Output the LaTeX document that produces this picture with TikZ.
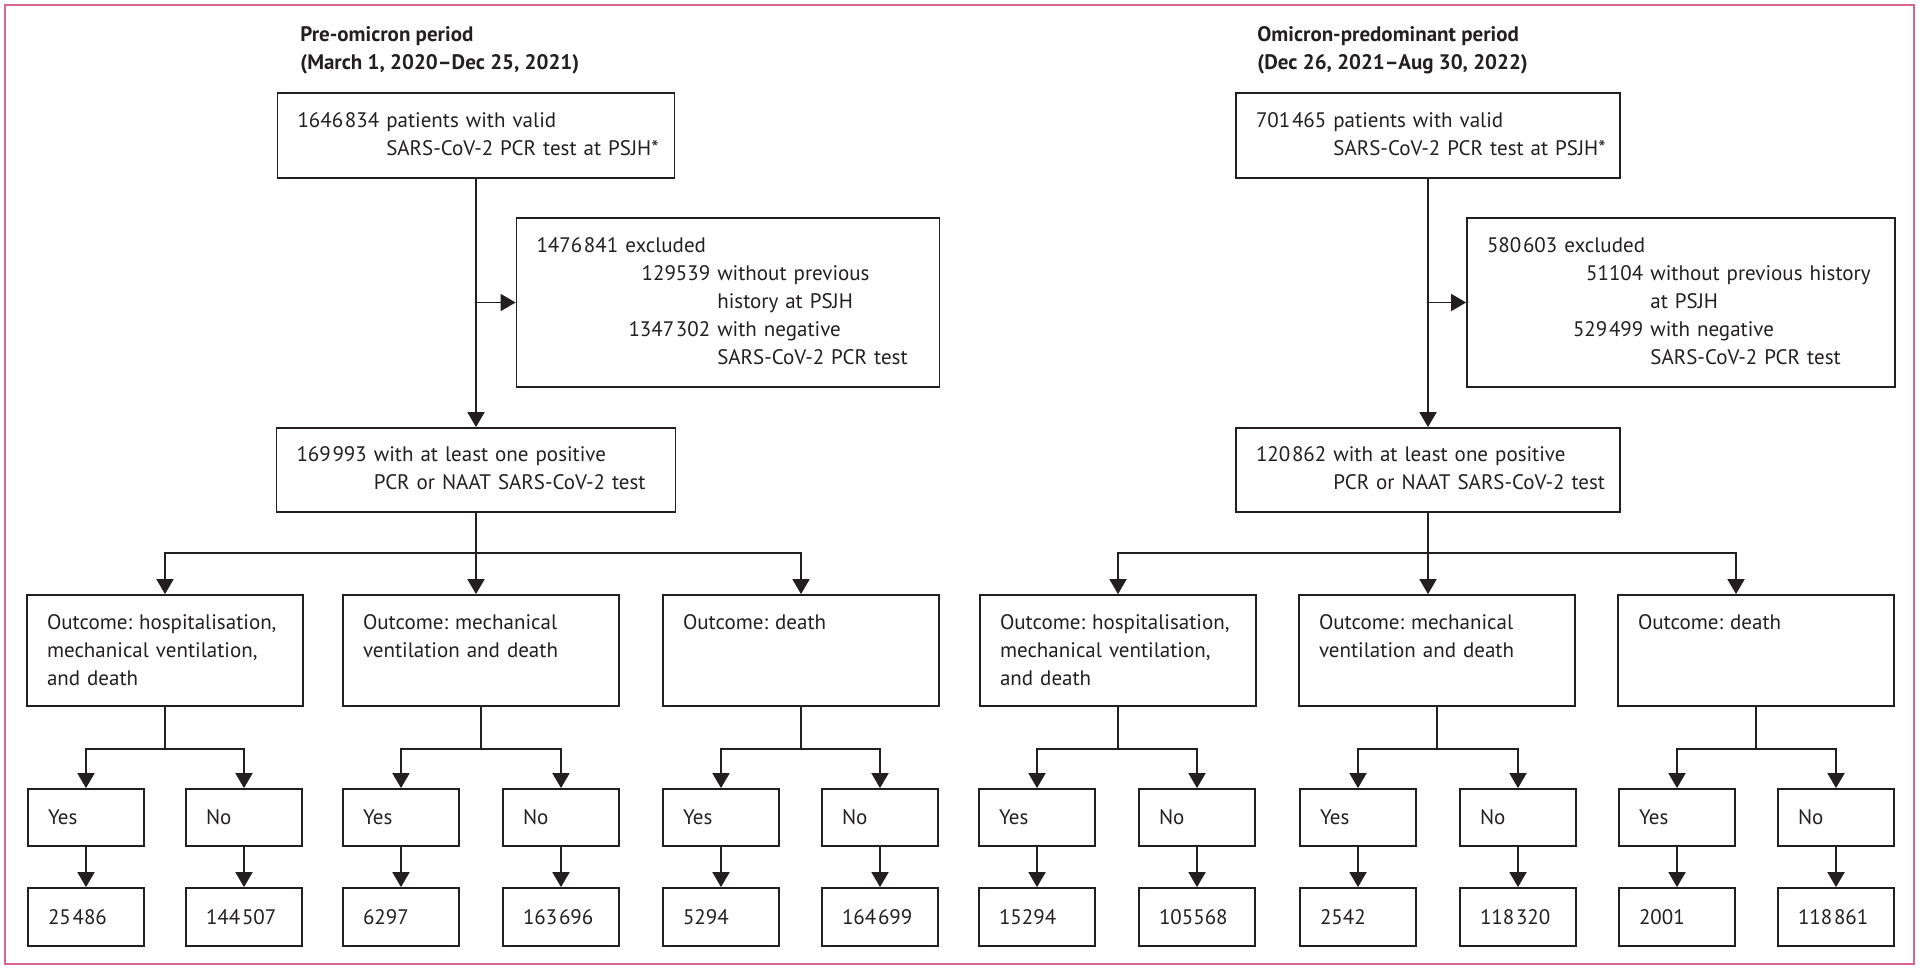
\documentclass[tikz,border=0pt]{standalone}
\usepackage{fontspec}
\setmainfont{PT Sans}
\frenchspacing
\usepackage{tikz}
\usetikzlibrary{positioning}
\usetikzlibrary{arrows.meta}
\definecolor{ink}{RGB}{35,31,32}
\definecolor{framepink}{RGB}{217,102,140}
\newcommand{\thsp}{\kern0.08em}

\begin{document}
\begin{tikzpicture}[x=0.5pt, y=-0.5pt,
    every node/.style={font=\fontsize{10.5}{14}\selectfont, text=ink},
    box/.style={draw=ink, line width=0.9pt, inner xsep=10pt, inner ysep=0pt, align=left},
    outbox/.style={box, text width=118pt, minimum height=55.5pt},
    ynbox/.style={box, text width=38pt, minimum height=28.5pt},
    countbox/.style={box, text width=38pt, minimum height=29pt},
    heading/.style={font=\fontsize{10.5}{14}\selectfont\bfseries, align=left, anchor=north west, inner sep=0pt},
    link/.style={draw=ink, line width=0.9pt},
    arr/.style={link, -{Triangle[length=7.5pt, width=8.5pt]}}]

    \useasboundingbox (0,0) rectangle (1920,971);
    \draw[framepink, line width=1pt] (5,5) rectangle (1914,964);

    % Nodes: pre-omicron
    \node[heading] at (300,26) (head_pre) {Pre-omicron period\\(March 1, 2020–Dec 25, 2021)};
    \node[box, text width=178.5pt, minimum height=42.5pt] at (476,135.5) (start_pre)
        {\begin{tabular}{@{}l@{ }l@{}}1646\thsp834 & patients with valid\\ & SARS-CoV-2 PCR test at PSJH*\end{tabular}};
    \node[box, text width=191.5pt, minimum height=84.5pt] at (728,302.5) (excl_pre)
        {\begin{tabular}{@{}l@{}r@{ }l@{}}
            \multicolumn{3}{@{}l@{}}{1476\thsp841 excluded}\\
            \hspace*{46pt} & 129539 & without previous\\
             & & history at PSJH\\
             & 1347\thsp302 & with negative\\
             & & SARS-CoV-2 PCR test
        \end{tabular}};
    \node[box, text width=179.5pt, minimum height=42pt] at (476,470) (pos_pre)
        {\begin{tabular}{@{}l@{ }l@{}}169\thsp993 & with at least one positive\\ & PCR or NAAT SARS-CoV-2 test\end{tabular}};

    \node[outbox] at (165,650.5) (hosp_pre) {Outcome: hospitalisation,\\mechanical ventilation,\\and death};
    \node[outbox] at (481,650.5) (vent_pre) {Outcome: mechanical\\ventilation and death\\\mbox{}};
    \node[outbox] at (801,650.5) (death_pre) {Outcome: death\\\mbox{}\\\mbox{}};

    \node[ynbox] at (86,817.5) (hy_pre) {Yes};
    \node[ynbox] at (244,817.5) (hn_pre) {No};
    \node[ynbox] at (401,817.5) (vy_pre) {Yes};
    \node[ynbox] at (561,817.5) (vn_pre) {No};
    \node[ynbox] at (721,817.5) (dy_pre) {Yes};
    \node[ynbox] at (880,817.5) (dn_pre) {No};

    \node[countbox] at (86,917) (hy_pre_n) {25\thsp486};
    \node[countbox] at (244,917) (hn_pre_n) {144\thsp507};
    \node[countbox] at (401,917) (vy_pre_n) {6297};
    \node[countbox] at (561,917) (vn_pre_n) {163\thsp696};
    \node[countbox] at (721,917) (dy_pre_n) {5294};
    \node[countbox] at (880,917) (dn_pre_n) {164\thsp699};

    % Nodes: omicron-predominant
    \node[heading] at (1257,26) (head_om) {Omicron-predominant period\\(Dec 26, 2021–Aug 30, 2022)};
    \node[box, text width=172pt, minimum height=42.5pt] at (1428,135.5) (start_om)
        {\begin{tabular}{@{}l@{ }l@{}}701\thsp465 & patients with valid\\ & SARS-CoV-2 PCR test at PSJH*\end{tabular}};
    \node[box, text width=194pt, minimum height=84.5pt] at (1681,302.5) (excl_om)
        {\begin{tabular}{@{}l@{}r@{ }l@{}}
            \multicolumn{3}{@{}l@{}}{580\thsp603 excluded}\\
            \hspace*{43pt} & 51104 & without previous history\\
             & & at PSJH\\
             & 529\thsp499 & with negative\\
             & & SARS-CoV-2 PCR test
        \end{tabular}};
    \node[box, text width=172pt, minimum height=42pt] at (1428,470) (pos_om)
        {\begin{tabular}{@{}l@{ }l@{}}120\thsp862 & with at least one positive\\ & PCR or NAAT SARS-CoV-2 test\end{tabular}};

    \node[outbox] at (1118,650.5) (hosp_om) {Outcome: hospitalisation,\\mechanical ventilation,\\and death};
    \node[outbox] at (1437,650.5) (vent_om) {Outcome: mechanical\\ventilation and death\\\mbox{}};
    \node[outbox] at (1756,650.5) (death_om) {Outcome: death\\\mbox{}\\\mbox{}};

    \node[ynbox] at (1037,817.5) (hy_om) {Yes};
    \node[ynbox] at (1197,817.5) (hn_om) {No};
    \node[ynbox] at (1358,817.5) (vy_om) {Yes};
    \node[ynbox] at (1518,817.5) (vn_om) {No};
    \node[ynbox] at (1677,817.5) (dy_om) {Yes};
    \node[ynbox] at (1836,817.5) (dn_om) {No};

    \node[countbox] at (1037,917) (hy_om_n) {15294};
    \node[countbox] at (1197,917) (hn_om_n) {105568};
    \node[countbox] at (1358,917) (vy_om_n) {2542};
    \node[countbox] at (1518,917) (vn_om_n) {118\thsp320};
    \node[countbox] at (1677,917) (dy_om_n) {2001};
    \node[countbox] at (1836,917) (dn_om_n) {118\thsp861};

    % Arrows: pre-omicron
    \draw[arr] (start_pre) -- (pos_pre);
    \draw[arr] (start_pre.south |- excl_pre.west) -- (excl_pre.west);
    \draw[arr] (pos_pre) -- (pos_pre |- vent_pre.north);
    \coordinate (split_pre) at (476,553);
    \draw[arr] (split_pre) -| (hosp_pre);
    \draw[arr] (split_pre) -| (death_pre);
    \draw[arr] (hosp_pre.south) -- ++(0,42) -| (hy_pre);
    \draw[arr] (hosp_pre.south) ++(0,42) -| (hn_pre);
    \draw[arr] (vent_pre.south) -- ++(0,42) -| (vy_pre);
    \draw[arr] (vent_pre.south) ++(0,42) -| (vn_pre);
    \draw[arr] (death_pre.south) -- ++(0,42) -| (dy_pre);
    \draw[arr] (death_pre.south) ++(0,42) -| (dn_pre);
    \draw[arr] (hy_pre) -- (hy_pre_n);
    \draw[arr] (hn_pre) -- (hn_pre_n);
    \draw[arr] (vy_pre) -- (vy_pre_n);
    \draw[arr] (vn_pre) -- (vn_pre_n);
    \draw[arr] (dy_pre) -- (dy_pre_n);
    \draw[arr] (dn_pre) -- (dn_pre_n);

    % Arrows: omicron-predominant
    \draw[arr] (start_om) -- (pos_om);
    \draw[arr] (start_om.south |- excl_om.west) -- (excl_om.west);
    \draw[arr] (pos_om) -- (pos_om |- vent_om.north);
    \coordinate (split_om) at (1428,553);
    \draw[arr] (split_om) -| (hosp_om);
    \draw[arr] (split_om) -| ([xshift=-10pt]death_om.north);
    \draw[arr] (hosp_om.south) -- ++(0,42) -| (hy_om);
    \draw[arr] (hosp_om.south) ++(0,42) -| (hn_om);
    \draw[arr] (vent_om.south) -- ++(0,42) -| (vy_om);
    \draw[arr] (vent_om.south) ++(0,42) -| (vn_om);
    \draw[arr] (death_om.south) -- ++(0,42) -| (dy_om);
    \draw[arr] (death_om.south) ++(0,42) -| (dn_om);
    \draw[arr] (hy_om) -- (hy_om_n);
    \draw[arr] (hn_om) -- (hn_om_n);
    \draw[arr] (vy_om) -- (vy_om_n);
    \draw[arr] (vn_om) -- (vn_om_n);
    \draw[arr] (dy_om) -- (dy_om_n);
    \draw[arr] (dn_om) -- (dn_om_n);

\end{tikzpicture}
\end{document}
